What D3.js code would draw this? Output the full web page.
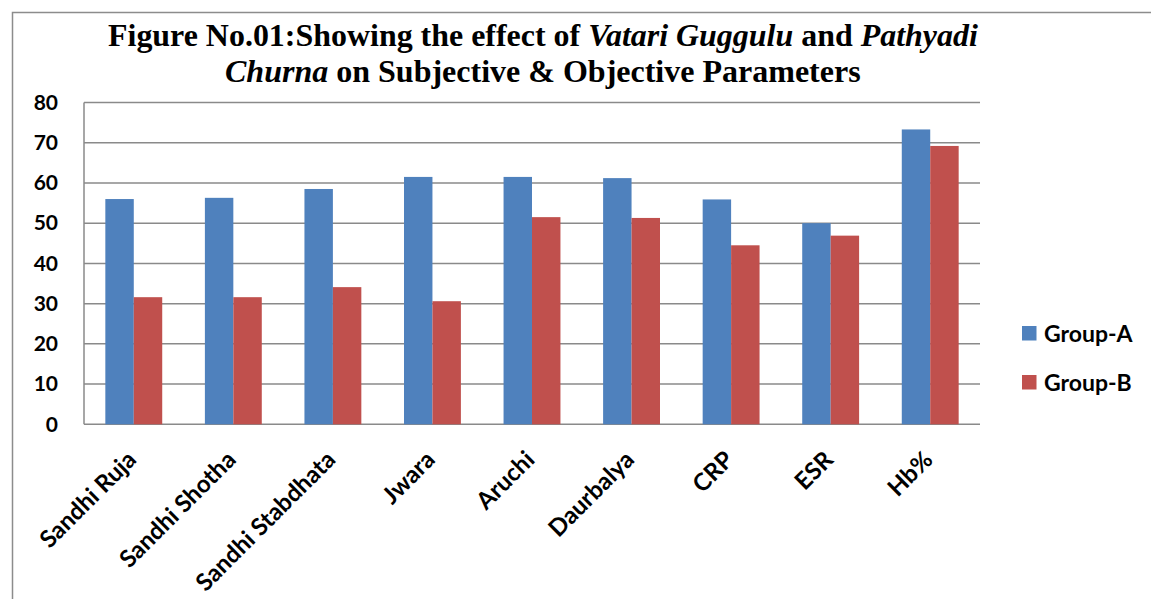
<!DOCTYPE html>
<html>
<head>
<meta charset="utf-8">
<script src="https://d3js.org/d3.v7.min.js"></script>
<style>
  body { margin: 0; background: #fff; }
  svg { display: block; }
</style>
</head>
<body>
<svg id="chart" width="1151" height="599"></svg>
<script>
const categories = ["Sandhi Ruja", "Sandhi Shotha", "Sandhi Stabdhata", "Jwara", "Aruchi",
                    "Daurbalya", "CRP", "ESR", "Hb%"];
const groupA = [56.0, 56.3, 58.5, 61.5, 61.5, 61.2, 55.9, 50.0, 73.3];
const groupB = [31.6, 31.6, 34.1, 30.6, 51.5, 51.3, 44.5, 46.9, 69.2];
const seriesNames = ["Group-A", "Group-B"];
const seriesColors = ["#4F81BD", "#C0504D"];
const yTicks = [0, 10, 20, 30, 40, 50, 60, 70, 80];

const svg = d3.select("#chart");
const plot = { left: 84, right: 980, top: 102.5, bottom: 424.3 };
const sansFont = "Lato, 'Open Sans', sans-serif";

// outer frame (only top and left edges are visible)
svg.append("path")
    .attr("d", "M12.5,599V12.5H1151")
    .style("fill", "none")
    .style("stroke", "#8c8c8c")
    .style("stroke-width", 1.5);

// title, two lines, stretched to the width seen in the figure
function titleLine(parts, baseline, targetWidth) {
    const g = svg.append("g");
    const t = g.append("text")
        .attr("x", 0)
        .attr("y", 0)
        .style("font-family", "'Liberation Serif', 'Times New Roman', serif")
        .style("font-weight", "bold")
        .style("font-size", "31px")
        .attr("fill", "#000");
    parts.forEach(p => {
        t.append("tspan").style("font-style", p[1] ? "italic" : "normal").text(p[0]);
    });
    const w = t.node().getComputedTextLength();
    const sx = targetWidth / w;
    g.attr("transform", `translate(${543 - targetWidth / 2},${baseline}) scale(${sx},1)`);
}
titleLine([["Figure No.01:Showing the effect of ", false], ["Vatari Guggulu", true],
           [" and ", false], ["Pathyadi", true]], 46, 870);
titleLine([["Churna", true], [" on Subjective & Objective Parameters", false]], 82, 636);

const x = d3.scaleBand()
    .domain(categories)
    .range([plot.left, plot.right]);

const inner = d3.scaleBand()
    .domain(seriesNames)
    .range([0, x.bandwidth()])
    .paddingInner(0)
    .paddingOuter(0.75);

const y = d3.scaleLinear()
    .domain([0, 80])
    .range([plot.bottom, plot.top]);

// gridlines
svg.append("g")
    .attr("class", "grid")
    .selectAll("line")
    .data(yTicks)
    .enter().append("line")
    .attr("x1", plot.left)
    .attr("x2", plot.right)
    .attr("y1", d => y(d))
    .attr("y2", d => y(d))
    .style("stroke", "#8a8a8a")
    .style("stroke-width", 1.5);

svg.append("line")
    .attr("x1", plot.left).attr("x2", plot.left)
    .attr("y1", plot.top).attr("y2", plot.bottom)
    .style("stroke", "#8a8a8a")
    .style("stroke-width", 1.5);

// y axis labels
const yAxis = d3.axisLeft(y).tickValues(yTicks).tickSize(0).tickPadding(26);
const yg = svg.append("g")
    .attr("transform", `translate(${plot.left},0)`)
    .call(yAxis);
yg.select(".domain").remove();
yg.selectAll("text")
    .style("font-family", sansFont)
    .style("font-weight", "bold")
    .style("font-size", "21px")
    .attr("fill", "#000");

// bars
const rows = categories.map((c, i) => ({ cat: c, values: [groupA[i], groupB[i]] }));
svg.append("g")
    .attr("class", "bars")
    .selectAll("g")
    .data(rows)
    .enter().append("g")
    .attr("transform", d => `translate(${x(d.cat)},0)`)
    .selectAll("rect")
    .data(d => d.values.map((v, j) => ({ key: seriesNames[j], v: v, color: seriesColors[j] })))
    .enter().append("rect")
    .attr("x", d => inner(d.key))
    .attr("width", inner.bandwidth())
    .attr("y", d => y(d.v))
    .attr("height", d => y(0) - y(d.v))
    .style("fill", d => d.color);

// x axis labels
const xAxis = d3.axisBottom(x).tickSize(0).tickPadding(0);
const xg = svg.append("g")
    .attr("transform", `translate(0,${plot.bottom})`)
    .call(xAxis);
xg.select(".domain").remove();
xg.selectAll("text")
    .style("font-family", sansFont)
    .style("font-weight", "bold")
    .style("font-size", "24px")
    .attr("fill", "#000")
    .attr("text-anchor", "end")
    .attr("dy", "0.35em")
    .attr("transform", "translate(-2,31) rotate(-45)");

// legend
const legend = svg.append("g")
    .attr("class", "legend")
    .selectAll("g")
    .data(seriesNames)
    .enter().append("g")
    .attr("transform", (d, i) => `translate(1022,${326 + i * 49})`);
legend.append("rect")
    .attr("width", 14.5)
    .attr("height", 14.5)
    .style("fill", (d, i) => seriesColors[i]);
legend.append("text")
    .attr("x", 22)
    .attr("y", 7.5)
    .attr("dy", "0.36em")
    .style("font-family", sansFont)
    .style("font-weight", "bold")
    .style("font-size", "23px")
    .attr("fill", "#000")
    .text(d => d);
</script>
</body>
</html>
